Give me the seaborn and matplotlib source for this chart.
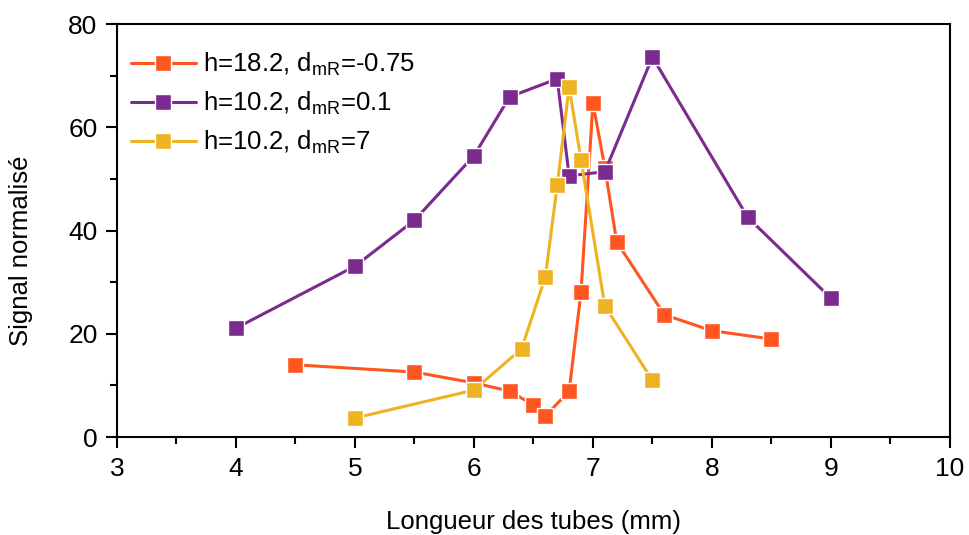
import numpy as np
import pandas as pd
import matplotlib
matplotlib.use("Agg")
import matplotlib.pyplot as plt
import seaborn as sns
from matplotlib.ticker import MultipleLocator

# ---- data ----
x_orange = [4.5, 5.5, 6.0, 6.3, 6.5, 6.6, 6.8, 6.9, 7.0, 7.1, 7.2, 7.6, 8.0, 8.5]
y_orange = [14.0, 12.6, 10.5, 8.9, 6.2, 4.1, 8.9, 28.1, 64.7, 52.2, 37.8, 23.7, 20.6, 19.0]

x_purple = [4.0, 5.0, 5.5, 6.0, 6.3, 6.7, 6.8, 7.1, 7.5, 8.3, 9.0]
y_purple = [21.1, 33.1, 42.0, 54.5, 65.9, 69.4, 50.6, 51.4, 73.6, 42.6, 26.9]

x_yellow = [5.0, 6.0, 6.4, 6.6, 6.7, 6.8, 6.9, 7.1, 7.5]
y_yellow = [3.7, 9.1, 17.1, 31.0, 48.8, 67.8, 53.7, 25.4, 11.0]

labels = [r"h=18.2, d$_{\mathrm{mR}}$=-0.75",
          r"h=10.2, d$_{\mathrm{mR}}$=0.1",
          r"h=10.2, d$_{\mathrm{mR}}$=7"]
colors = ["#FF5520", "#7B2A8E", "#EFB321"]

df = pd.concat([
    pd.DataFrame({"x": x_orange, "y": y_orange, "serie": labels[0]}),
    pd.DataFrame({"x": x_purple, "y": y_purple, "serie": labels[1]}),
    pd.DataFrame({"x": x_yellow, "y": y_yellow, "serie": labels[2]}),
], ignore_index=True)

sns.set_style("ticks")
plt.rcParams["font.family"] = ["Liberation Sans", "DejaVu Sans"]
plt.rcParams["mathtext.fontset"] = "custom"
plt.rcParams["mathtext.rm"] = "Liberation Sans"
plt.rcParams["mathtext.it"] = "Liberation Sans:italic"
plt.rcParams["text.color"] = "black"
plt.rcParams["axes.labelcolor"] = "black"

fig = plt.figure(figsize=(9.69, 5.35), dpi=100)
ax = fig.add_axes([0.1207, 0.183, 0.8596, 0.772])

sns.lineplot(data=df, x="x", y="y", hue="serie", hue_order=labels,
             palette=colors, style="serie", markers=["s", "s", "s"],
             dashes=False, estimator=None, sort=False, ax=ax,
             linewidth=2.2, markersize=11, markeredgecolor="white",
             markeredgewidth=1.0)

ax.set_xlim(3, 10)
ax.set_ylim(0, 80)
ax.xaxis.set_major_locator(MultipleLocator(1))
ax.xaxis.set_minor_locator(MultipleLocator(0.5))
ax.yaxis.set_major_locator(MultipleLocator(20))
ax.yaxis.set_minor_locator(MultipleLocator(10))
ax.tick_params(axis="both", which="major", direction="out", length=8, width=1.5,
               labelsize=19, colors="black", pad=6)
ax.tick_params(axis="both", which="minor", direction="out", length=5, width=1.5,
               colors="black")
for s in ax.spines.values():
    s.set_linewidth(1.5)
    s.set_color("black")
    s.set_visible(True)

ax.set_xlabel("Longueur des tubes (mm)", fontsize=18.5, labelpad=21)
ax.set_ylabel("Signal normalisé", fontsize=18.5)
ax.yaxis.set_label_coords(-0.101, 0.45)

leg = ax.legend(loc="upper left", frameon=False, fontsize=18.5, handlelength=2.5,
                handletextpad=0.3, labelspacing=0.47, borderaxespad=0.55,
                bbox_to_anchor=(-0.012, 0.995))
for h in leg.legend_handles:
    h.set_markersize(11)
    h.set_markeredgecolor("white")
    h.set_linewidth(2.2)

fig.savefig("out.png", dpi=100)
